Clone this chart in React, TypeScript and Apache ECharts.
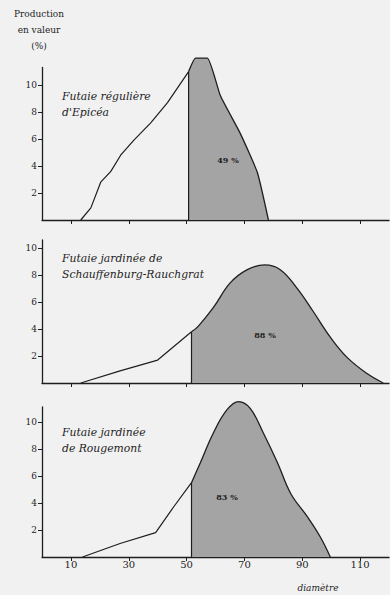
import React, { useEffect, useRef } from "react";
import * as echarts from "echarts";

// Diameter (cm) / production share (%)
const epiceaLeft: number[][] = [[13.4, 0], [16.9, 0.9], [20.3, 2.8], [23.8, 3.6], [27.2, 4.8], [31.7, 5.9], [37.6, 7.2], [43.4, 8.7], [50.7, 11.0]];
const epiceaRight: number[][] = [[50.7, 11.0], [53.1, 12.0], [57.2, 12.0], [61.7, 9.2], [68.6, 6.4], [74.5, 3.5], [78.3, 0]];

const schauffLeft: number[][] = [[13.4, 0], [27, 0.9], [40, 1.7], [51.7, 3.8]];
const schauffRight: number[][] = [[51.7, 3.8], [54, 4.2], [59.3, 5.6], [65, 7.4], [71, 8.4], [77, 8.75], [82.4, 8.4], [88.3, 7.0], [93.8, 5.3], [99.7, 3.4], [105.5, 1.9], [112.4, 0.7], [118, 0]];

const rougeLeft: number[][] = [[14, 0], [27, 1.0], [39.3, 1.8], [45.5, 3.7], [51.7, 5.5]];
const rougeRight: number[][] = [[51.7, 5.5], [54.8, 7.0], [59.3, 9.2], [64, 10.9], [68, 11.5], [72, 11.0], [76.5, 9.2], [81.4, 7.0], [86, 4.7], [91.7, 3.0], [96.2, 1.5], [99.7, 0]];

const shares: string[] = ["49 %", "88 %", "83 %"];
const titles: string[][] = [
  ["Futaie régulière", "d'Epicéa"],
  ["Futaie jardinée de", "Schauffenburg-Rauchgrat"],
  ["Futaie jardinée", "de Rougemont"],
];
const xTicks: number[] = [10, 30, 50, 70, 90, 110];
const yTicks: number[] = [2, 4, 6, 8, 10];
const yMax: number[] = [11.3, 10.6, 11.1];

const panels = [
  { left: epiceaLeft, right: epiceaRight, smooth: 0.15 },
  { left: schauffLeft, right: schauffRight, smooth: 0.4 },
  { left: rougeLeft, right: rougeRight, smooth: 0.4 },
];

const SERIF = "DejaVu Serif";
const INK = "#1e1e1e";

export default function App() {
  const ref = useRef<HTMLDivElement>(null);
  useEffect(() => {
    document.body.style.margin = "0";
    const chart = echarts.init(ref.current!, undefined, { renderer: "svg" });
    const grids = [
      { left: 42, right: 1, top: 67.5, height: 152.5 },
      { left: 42, right: 1, top: 240, height: 143 },
      { left: 42, right: 1, top: 407, height: 150 },
    ];
    const xAxis = grids.map((_, i) => ({
      type: "value",
      gridIndex: i,
      min: 0,
      max: 120,
      splitLine: { show: false },
      axisLine: { lineStyle: { color: INK, width: 1.3 } },
      axisTick: { customValues: xTicks, length: 4, lineStyle: { color: INK, width: 1 } },
      axisLabel: {
        show: i === 2,
        customValues: xTicks,
        fontFamily: SERIF,
        fontSize: 10,
        color: INK,
        margin: 2,
      },
    }));
    const yAxis = grids.map((_, i) => ({
      type: "value",
      gridIndex: i,
      min: 0,
      max: yMax[i],
      splitLine: { show: false },
      axisLine: { show: true, lineStyle: { color: INK, width: 1.3 } },
      axisTick: { show: true, customValues: yTicks, length: 4, lineStyle: { color: INK, width: 1 } },
      axisLabel: {
        customValues: yTicks,
        fontFamily: SERIF,
        fontSize: 9,
        color: INK,
        margin: 5,
      },
    }));
    const series: any[] = [];
    panels.forEach((p, i) => {
      const thr = p.right[0];
      series.push({
        type: "line",
        xAxisIndex: i,
        yAxisIndex: i,
        data: p.right,
        smooth: p.smooth,
        symbol: "none",
        clip: false,
        lineStyle: { color: INK, width: 1.3 },
        areaStyle: { color: "#a4a4a4", opacity: 1 },
        z: 2,
      });
      series.push({
        type: "line",
        xAxisIndex: i,
        yAxisIndex: i,
        data: p.left,
        symbol: "none",
        clip: false,
        lineStyle: { color: INK, width: 1.2 },
        z: 3,
      });
      series.push({
        type: "line",
        xAxisIndex: i,
        yAxisIndex: i,
        data: [[thr[0], 0], thr],
        symbol: "none",
        lineStyle: { color: INK, width: 1.2 },
        z: 3,
      });
    });
    const titleTops = [88, 250, 424];
    const shareCenters = [[228, 160], [265, 335], [227, 497]];
    const graphic: any[] = [
      {
        type: "text",
        x: 39,
        y: 6,
        style: {
          text: "Production\nen valeur\n(%)",
          align: "center",
          fontFamily: SERIF,
          fontSize: 9,
          lineHeight: 16,
          fill: INK,
        },
      },
      {
        type: "text",
        x: 318,
        y: 588,
        style: {
          text: "diamètre",
          align: "center",
          verticalAlign: "middle",
          fontFamily: SERIF,
          fontStyle: "italic",
          fontSize: 9,
          fill: INK,
        },
      },
    ];
    titles.forEach((t, i) => {
      graphic.push({
        type: "text",
        x: 62,
        y: titleTops[i],
        style: {
          text: t.join("\n"),
          fontFamily: SERIF,
          fontStyle: "italic",
          fontSize: 10.8,
          lineHeight: 16,
          fill: INK,
        },
      });
      graphic.push({
        type: "text",
        x: shareCenters[i][0],
        y: shareCenters[i][1],
        style: {
          text: shares[i],
          align: "center",
          verticalAlign: "middle",
          fontFamily: SERIF,
          fontWeight: "bold",
          fontSize: 8,
          fill: INK,
        },
        z: 10,
      });
    });
    chart.setOption({
      animation: false,
      backgroundColor: "#f1f1f1",
      grid: grids,
      xAxis,
      yAxis,
      series,
      graphic,
    });
    return () => chart.dispose();
  }, []);
  return <div ref={ref} style={{ position: "fixed", left: 0, top: 0, width: 390, height: 595 }} />;
}
